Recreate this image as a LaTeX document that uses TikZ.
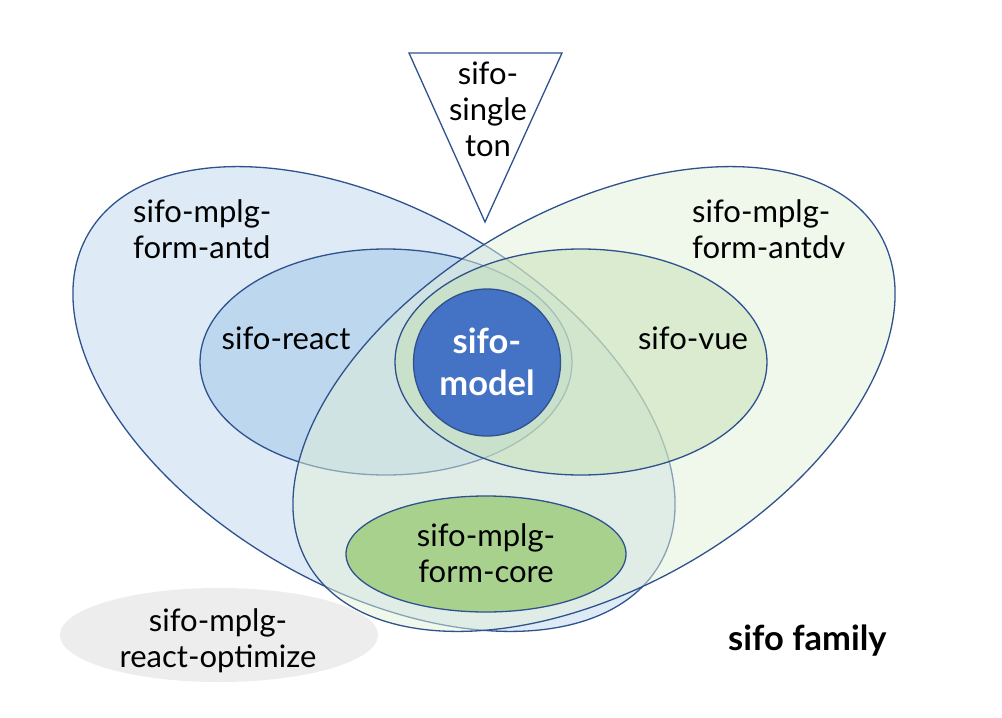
\documentclass[tikz,border=0pt]{standalone}
\usepackage{fontspec}
\setmainfont{Lato}
\definecolor{edge}{HTML}{2F528F}
\definecolor{antdfill}{HTML}{DEEBF7}
\definecolor{reactfill}{HTML}{BDD7EE}
\definecolor{antdvfill}{HTML}{E2F0D9}
\definecolor{vuefill}{HTML}{C5E0B4}
\definecolor{modelfill}{HTML}{4472C4}
\definecolor{corefill}{HTML}{A9D18E}
\definecolor{grayfill}{HTML}{EDEDED}
\begin{document}
\begin{tikzpicture}[x=1pt,y=-1pt,
  venn/.style={draw=edge,line width=1.3pt},
  lbl/.style={font=\fontsize{31}{36}\selectfont, inner sep=0pt, text=black, align=center, anchor=base},
  lblleft/.style={lbl, align=left, anchor=base west},
  boldlbl/.style={font=\fontsize{34.5}{42}\selectfont\bfseries, inner sep=0pt, align=center, anchor=base}]
\useasboundingbox (0,0) rectangle (1002,718);
\fill[white] (0,0) rectangle (1002,718);
% other
\fill[grayfill] (219,635) ellipse [x radius=159, y radius=47];
% antd
\draw[venn, fill=antdfill, rotate around={-30:(374,399)}] (374,399) ellipse [x radius=330, y radius=189];
% react
\draw[venn, fill=reactfill] (386,362) ellipse [x radius=186, y radius=113];
% antdv
\draw[venn, fill=antdvfill, fill opacity=0.5, rotate around={30:(594,399)}] (594,399) ellipse [x radius=330, y radius=189];
% vue
\draw[venn, fill=vuefill, fill opacity=0.5] (581,362) ellipse [x radius=186, y radius=113];
% model
\draw[venn, fill=modelfill] (487,362.5) circle [radius=73.5];
% core
\draw[venn, fill=corefill] (486,554) ellipse [x radius=140, y radius=58];
% singleton triangle
\draw[venn, fill=white, line join=miter] (409,53) -- (562,53) -- (485,222) -- cycle;
% labels (base anchor = baseline of the last line)
\node[lblleft] (tantd) at (133,258) {sifo-mplg-\\form-antd};
\node[lblleft] (tantdv) at (692,258) {sifo-mplg-\\form-antdv};
\node[lbl] (treact) at (286,349) {sifo-react};
\node[lbl] (tvue) at (693,349) {sifo-vue};
\node[boldlbl, text=white] (tmodel) at (487,395) {sifo-\\model};
\node[lbl] (tcore) at (486,582) {sifo-mplg-\\form-core};
\node[lbl] (tsingle) at (488,156) {sifo-\\single\\ton};
\node[lbl] (topt) at (218,667) {sifo-mplg-\\react-optimize};
\node[boldlbl, anchor=base west, text=black] (tfamily) at (728,650) {sifo family};
\end{tikzpicture}
\end{document}
